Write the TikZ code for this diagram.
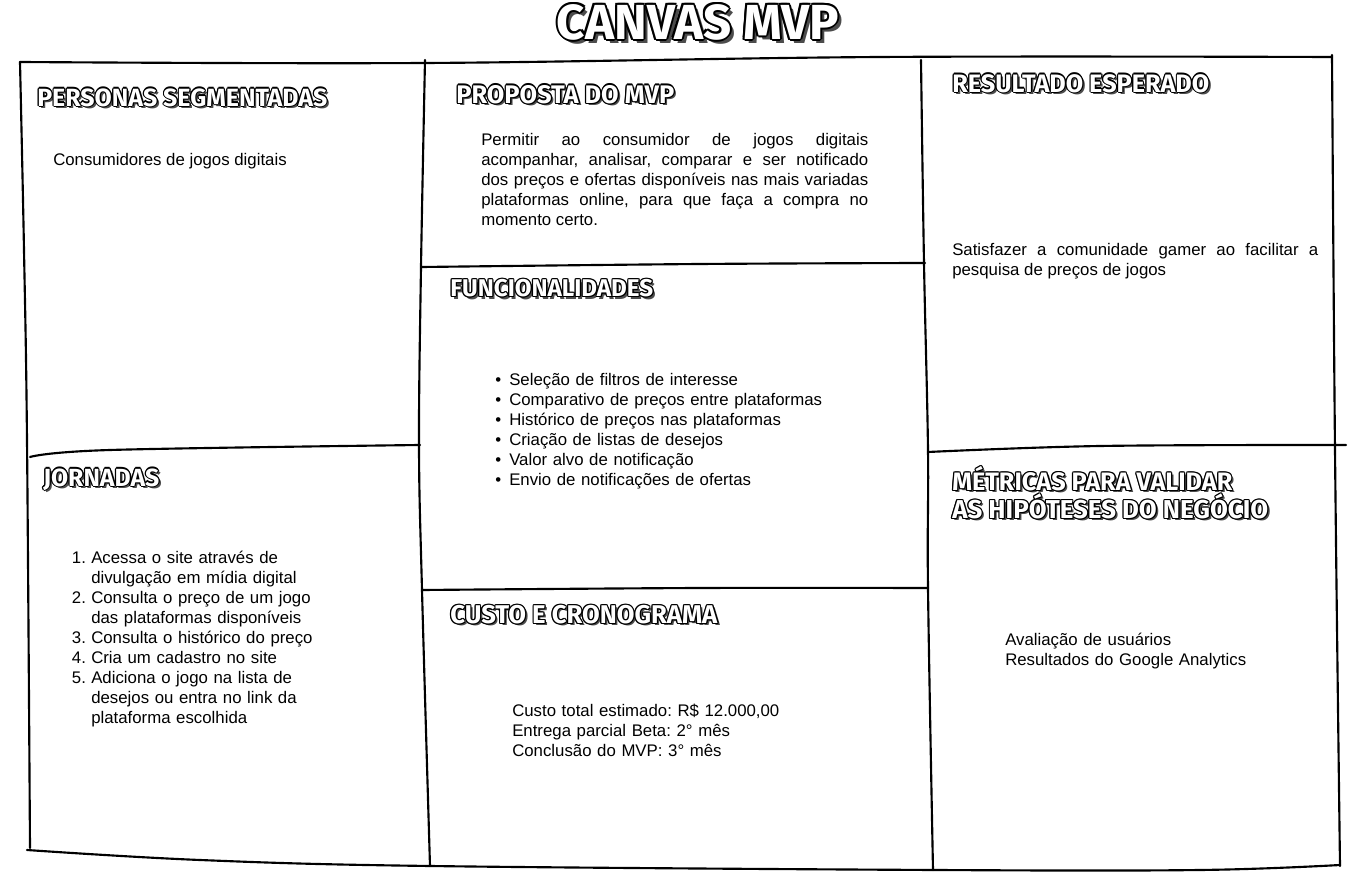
\documentclass[tikz,border=0pt]{standalone}
\usepackage{fontspec}
\usepackage{graphicx}
\setmainfont{Liberation Sans}
\newfontfamily\comicfont{Fira Sans}
\frenchspacing
\newlength\px \setlength\px{0.75pt}
\newlength\olw
\newcommand\cl[1]{\resizebox{\cw\px}{!}{\color{#1}\comicfont\bfseries\ct}}
\newcommand\comic[3][0.9pt]{%
 \setlength\olw{#1}\def\cw{#2}\def\ct{#3}%
 \leavevmode
 \rlap{\kern2\olw\raisebox{-2\olw}{\cl{black!70}}}%
 \rlap{\kern\olw\cl{black}}\rlap{\kern-\olw\cl{black}}%
 \rlap{\raisebox{\olw}{\cl{black}}}\rlap{\raisebox{-\olw}{\cl{black}}}%
 \rlap{\kern0.7\olw\raisebox{0.7\olw}{\cl{black}}}\rlap{\kern-0.7\olw\raisebox{0.7\olw}{\cl{black}}}%
 \rlap{\kern0.7\olw\raisebox{-0.7\olw}{\cl{black}}}\rlap{\kern-0.7\olw\raisebox{-0.7\olw}{\cl{black}}}%
 \cl{white}}
\newcommand\bul{\leavevmode\llap{\textbullet\hspace{6pt}}}
\newcommand\num[1]{\leavevmode\llap{#1.\hspace{4pt}}}
\tikzset{
 frame/.style={line width=1.6pt, black, line cap=round, line join=round},
 head/.style={anchor=west, inner sep=0pt},
 body/.style={anchor=base west, inner sep=0pt, font=\fontsize{12.6}{15}\selectfont\frenchspacing, align=left},
 para/.style={body, align=justify},
}
\begin{document}
\begin{tikzpicture}[x=0.75pt, y=-0.75pt]
\useasboundingbox (0,0) rectangle (1361,887);
% frame
\draw[frame] plot[smooth, tension=0.6] coordinates {(20,62) (425,63) (880,57) (1332,57)};
\draw[frame] plot[smooth, tension=0.6] coordinates {(20,62) (24,250) (27,440) (30,848)};
\draw[frame] plot[smooth, tension=0.6] coordinates {(1332,55) (1335,450) (1340,866)};
\draw[frame] plot[smooth, tension=0.6] coordinates {(27,850) (200,860) (430,866) (935,870) (1200,870) (1340,865)};
\draw[frame] plot[smooth, tension=0.6] coordinates {(425,60) (421,267) (419,445) (422,590) (430,866)};
\draw[frame] plot[smooth, tension=0.6] coordinates {(921,60) (924,263) (928,450) (928,588) (933,870)};
\draw[frame] plot[smooth, tension=0.6] coordinates {(30,457) (110,450) (420,445)};
\draw[frame] plot[smooth, tension=0.6] coordinates {(422,267) (700,264) (925,263)};
\draw[frame] plot[smooth, tension=0.6] coordinates {(422,590) (700,588) (928,588)};
\draw[frame] plot[smooth, tension=0.6] coordinates {(928,452) (1100,446) (1346,445)};
% title and headings
\node[anchor=center, inner sep=0pt] (title) at (698,23) {\comic[1.5pt]{282}{CANVAS MVP}};
\node[head] (hpers) at (37,98) {\comic{290}{PERSONAS SEGMENTADAS}};
\node[head] (hprop) at (456,95) {\comic{218}{PROPOSTA DO MVP}};
\node[head] (hres) at (952,84) {\comic{257}{RESULTADO ESPERADO}};
\node[head] (hfun) at (450,289) {\comic{203}{FUNCIONALIDADES}};
\node[head] (hjor) at (43,480) {\comic{116}{JORNADAS}};
\node[head] (hmet1) at (952,479) {\comic{280}{MÉTRICAS PARA VALIDAR}};
\node[head] (hmet2) at (952,507) {\comic{316}{AS HIPÓTESES DO NEGÓCIO}};
\node[head] (hcus) at (450,615) {\comic{267}{CUSTO E CRONOGRAMA}};
% body texts
\node[body] (tpers) at (53,166) {Consumidores de jogos digitais};
\node[para, text width=387\px] (tprop) at (481,146) {Permitir ao consumidor de jogos digitais\linebreak acompanhar, analisar, comparar e ser notificado\linebreak dos preços e ofertas disponíveis nas mais variadas\linebreak plataformas online, para que faça a compra no\linebreak momento certo.};
\node[para, text width=366\px] (tres) at (952,256) {Satisfazer a comunidade gamer ao facilitar a\linebreak pesquisa de preços de jogos};
\node[body, text width=360\px] (tfun) at (509,386) {\bul Seleção de filtros de interesse\\
\bul Comparativo de preços entre plataformas\\
\bul Histórico de preços nas plataformas\\
\bul Criação de listas de desejos\\
\bul Valor alvo de notificação\\
\bul Envio de notificações de ofertas};
\node[body, text width=280\px] (tjor) at (91,564) {\num{1}Acessa o site através de\\
divulgação em mídia digital\\
\num{2}Consulta o preço de um jogo\\
das plataformas disponíveis\\
\num{3}Consulta o histórico do preço\\
\num{4}Cria um cadastro no site\\
\num{5}Adiciona o jogo na lista de\\
desejos ou entra no link da\\
plataforma escolhida};
\node[body, text width=330\px] (tcus) at (512,716) {Custo total estimado: R\$ 12.000,00\\
Entrega parcial Beta: 2° mês\\
Conclusão do MVP: 3° mês};
\node[body, text width=300\px] (tmet) at (1005,646) {Avaliação de usuários\\
Resultados do Google Analytics};
\end{tikzpicture}
\end{document}
